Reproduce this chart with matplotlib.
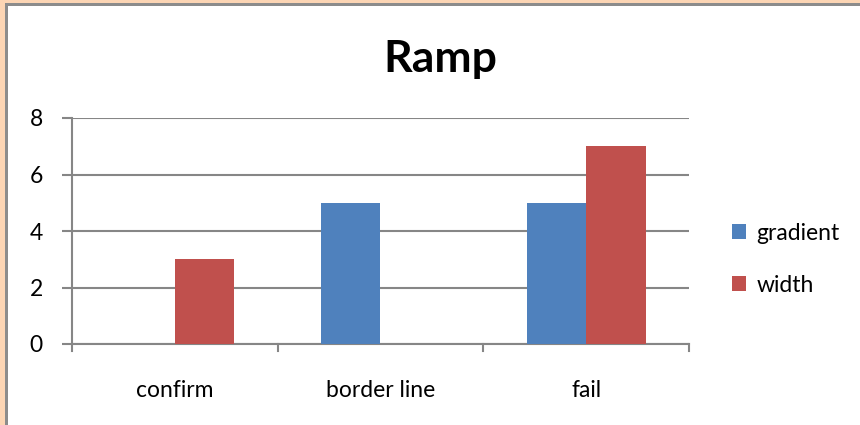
import numpy as np
import matplotlib.pyplot as plt
from matplotlib.patches import Rectangle

# datos
categories = ["confirm", "border line", "fail"]
gradient = [0, 5, 5]
width = [3, 0, 7]
yticks = [0, 2, 4, 6, 8]

plt.rcParams["font.family"] = ["Lato", "DejaVu Sans"]

fig = plt.figure(figsize=(8.6, 4.25), dpi=100)
fig.patch.set_facecolor("white")

# marco (borde durazno + linea gris)
fig.add_artist(Rectangle((0, 0), 5 / 860, 1, transform=fig.transFigure,
                         facecolor="#FCD5B4", edgecolor="none"))
fig.add_artist(Rectangle((0, 1 - 3 / 425), 1, 3 / 425, transform=fig.transFigure,
                         facecolor="#FCD5B4", edgecolor="none"))
fig.add_artist(Rectangle((5 / 860, 0), 2.5 / 860, 1 - 3 / 425, transform=fig.transFigure,
                         facecolor="#8C8C8C", edgecolor="none"))
fig.add_artist(Rectangle((5 / 860, 1 - 6 / 425), 1, 3 / 425, transform=fig.transFigure,
                         facecolor="#8C8C8C", edgecolor="none"))

ax = fig.add_axes([72 / 860, 1 - 344 / 425, 617 / 860, 226 / 425])

x = np.arange(len(categories))
bw = 0.29
ax.bar(x - bw / 2, gradient, bw, color="#4F81BD", label="gradient", zorder=3)
ax.bar(x + bw / 2, width, bw, color="#C0504D", label="width", zorder=3)

fs = 16.5
ax.set_xlim(-0.5, len(categories) - 0.5)
ax.set_ylim(0, 8)
ax.set_yticks(yticks)
ax.set_yticklabels([str(v) for v in yticks], fontsize=fs)
ax.set_xticks(x)
ax.set_xticklabels(categories, fontsize=fs)
ax.tick_params(axis="x", length=0, pad=26)
ax.tick_params(axis="y", length=7, width=1.5, color="#868686", pad=14)

# ticks de categoria en los limites
for b in np.arange(-0.5, len(categories), 1.0):
    ax.plot([b, b], [0, -0.25], color="#868686", lw=1.5, clip_on=False, zorder=4)

ax.grid(axis="y", color="#868686", lw=1.5, zorder=0)
for s in ["top", "right"]:
    ax.spines[s].set_visible(False)
for s in ["left", "bottom"]:
    ax.spines[s].set_color("#868686")
    ax.spines[s].set_linewidth(1.5)
ax.set_axisbelow(True)

fig.text(0.512, 0.862, "Ramp", ha="center", va="center", fontsize=32, fontweight="bold")

ax.legend(loc="center left", bbox_to_anchor=(1.037, 0.375), frameon=False,
          fontsize=fs, handlelength=0.6, handleheight=0.6, handletextpad=0.45,
          labelspacing=1.35)

fig.savefig("out.png", dpi=100)
